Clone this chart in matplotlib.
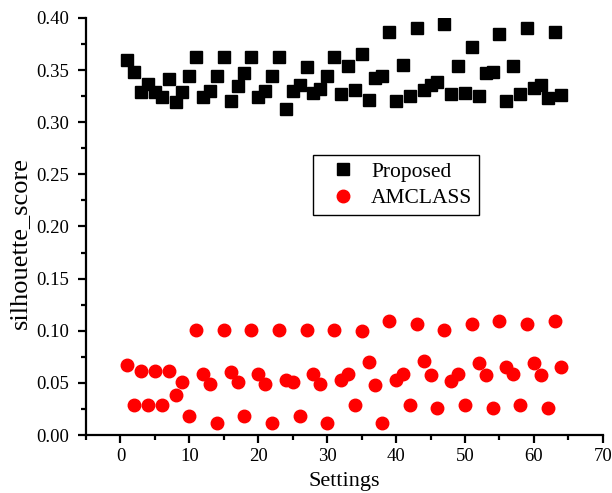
import matplotlib.pyplot as plt
from matplotlib.ticker import MultipleLocator

plt.rcParams['font.family'] = ['Liberation Serif', 'DejaVu Serif']

settings = list(range(1, 65))

proposed = [0.360, 0.348, 0.329, 0.337, 0.329, 0.324, 0.341, 0.319, 0.329, 0.344,
            0.363, 0.324, 0.330, 0.344, 0.363, 0.320, 0.335, 0.347, 0.363, 0.324,
            0.330, 0.344, 0.363, 0.313, 0.330, 0.336, 0.353, 0.328, 0.332, 0.344,
            0.363, 0.327, 0.354, 0.331, 0.365, 0.321, 0.342, 0.344, 0.387, 0.320,
            0.355, 0.325, 0.390, 0.331, 0.336, 0.339, 0.394, 0.327, 0.354, 0.328,
            0.372, 0.325, 0.347, 0.348, 0.385, 0.320, 0.354, 0.327, 0.390, 0.333,
            0.336, 0.323, 0.387, 0.326]

amclass = [0.067, 0.029, 0.061, 0.029, 0.061, 0.029, 0.061, 0.038, 0.051, 0.018,
           0.101, 0.059, 0.049, 0.012, 0.101, 0.060, 0.051, 0.018, 0.101, 0.059,
           0.049, 0.012, 0.101, 0.053, 0.051, 0.018, 0.101, 0.059, 0.049, 0.012,
           0.101, 0.053, 0.059, 0.029, 0.100, 0.070, 0.048, 0.012, 0.109, 0.053,
           0.059, 0.029, 0.106, 0.071, 0.058, 0.026, 0.101, 0.052, 0.059, 0.029,
           0.106, 0.069, 0.058, 0.026, 0.109, 0.065, 0.059, 0.029, 0.106, 0.069,
           0.058, 0.026, 0.109, 0.065]

fig = plt.figure(figsize=(6.12, 4.93), dpi=100)
ax = fig.add_axes([0.1405, 0.1176, 0.8445, 0.846])

ax.plot(settings, proposed, 's', color='black', markersize=8, label='Proposed')
ax.plot(settings, amclass, 'o', color='red', markersize=9, label='AMCLASS')

ax.set_xlim(-5, 70)
ax.set_ylim(0, 0.40)
ax.xaxis.set_major_locator(MultipleLocator(10))
ax.xaxis.set_minor_locator(MultipleLocator(5))
ax.yaxis.set_major_locator(MultipleLocator(0.05))
ax.yaxis.set_minor_locator(MultipleLocator(0.025))
ax.yaxis.set_major_formatter(plt.FormatStrFormatter('%.2f'))

for side in ['top', 'right']:
    ax.spines[side].set_visible(False)
for side in ['left', 'bottom']:
    ax.spines[side].set_linewidth(1.6)

ax.tick_params(which='major', direction='out', length=6, width=1.6, labelsize=13.5)
ax.tick_params(axis='y', which='major', pad=6)
ax.tick_params(which='minor', direction='out', length=3.5, width=1.6)

ax.set_xlabel('Settings', fontsize=16)
ax.xaxis.set_label_coords(0.5, -0.088)
ax.set_ylabel('silhouette_score', fontsize=19)
ax.yaxis.set_label_coords(-0.106, 0.46)

leg = ax.legend(loc='upper left', bbox_to_anchor=(0.439, 0.671), borderaxespad=0,
                fontsize=15.5, fancybox=False, edgecolor='black', framealpha=1,
                handlelength=2.2, handletextpad=0.2, borderpad=0.3, labelspacing=0.3)
leg.get_frame().set_linewidth(1.0)

fig.savefig('out.png', dpi=100)
